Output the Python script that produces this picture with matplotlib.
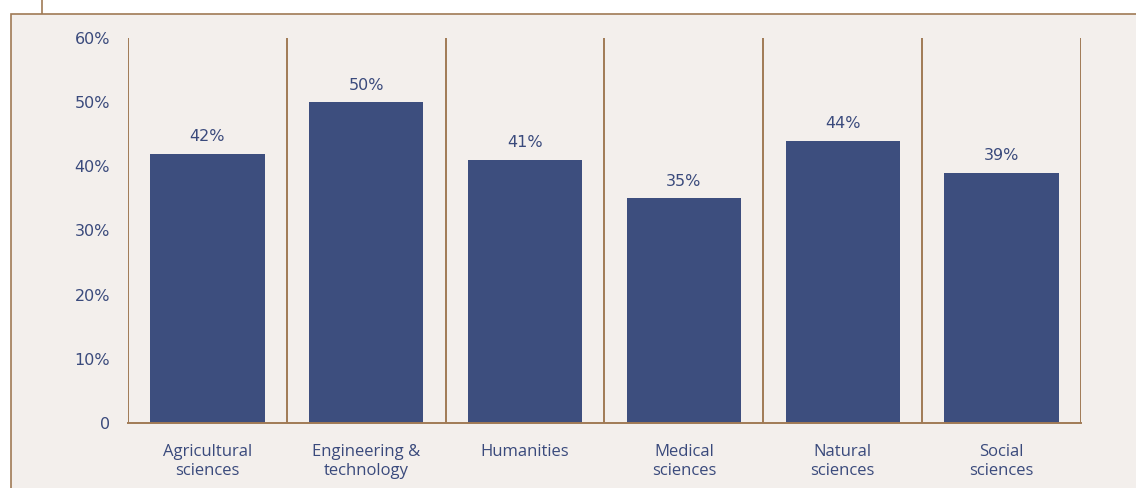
import matplotlib.pyplot as plt
from matplotlib.patches import Rectangle
from matplotlib.lines import Line2D

# share of researchers by field of science
fields = ["Agricultural\nsciences", "Engineering &\ntechnology", "Humanities",
          "Medical\nsciences", "Natural\nsciences", "Social\nsciences"]
shares = [42, 50, 41, 35, 44, 39]
yticks = [0, 10, 20, 30, 40, 50, 60]
ytick_labels = ["0", "10%", "20%", "30%", "40%", "50%", "60%"]

navy = "#3d4e7e"
text_col = "#3a4a7c"
brown = "#a07a55"
panel = "#f3efec"

plt.rcParams['font.family'] = ['Open Sans', 'DejaVu Sans']
num_font = dict(family="DejaVu Sans", size=11.5)

fig = plt.figure(figsize=(11.36, 4.88), dpi=100)
fig.patch.set_facecolor("white")

# background panel with a thin brown frame, kept behind the axes
top = 1 - 14 / 488
fig.patches.append(Rectangle((11 / 1136, -0.01), 1.0, top + 0.01, transform=fig.transFigure,
                             facecolor=panel, edgecolor=brown, lw=1.2, zorder=-10))
fig.lines.append(Line2D([41.5 / 1136, 41.5 / 1136], [top, 1.0], transform=fig.transFigure,
                        color=brown, lw=1.2, zorder=-10))

ax = fig.add_axes([128 / 1136, 1 - 423 / 488, (1081 - 128) / 1136, (423 - 38) / 488])
ax.set_facecolor("none")

x = list(range(len(fields)))
ax.bar(x, shares, width=0.72, color=navy, zorder=2)
for xi, v in zip(x, shares):
    ax.text(xi, v + 1.5, f"{v}%", ha="center", va="bottom", color=text_col, **num_font)

# brown separators between categories
for b in [i - 0.5 for i in range(len(fields) + 1)]:
    ax.axvline(b, ymin=0, ymax=1, color=brown, lw=1.4, zorder=1)

ax.set_xlim(-0.5, len(fields) - 0.5)
ax.set_ylim(0, 60)
ax.set_yticks(yticks)
ax.set_yticklabels(ytick_labels, **num_font)
ax.set_xticks(x)
ax.set_xticklabels(fields, linespacing=1.27, fontsize=12)
ax.tick_params(axis="both", length=0, labelcolor=text_col)
ax.tick_params(axis="y", pad=13)
ax.tick_params(axis="x", pad=15)

for side in ["top", "right", "left"]:
    ax.spines[side].set_visible(False)
ax.spines["bottom"].set_color(brown)
ax.spines["bottom"].set_linewidth(1.4)

fig.savefig("out.png", dpi=100)
